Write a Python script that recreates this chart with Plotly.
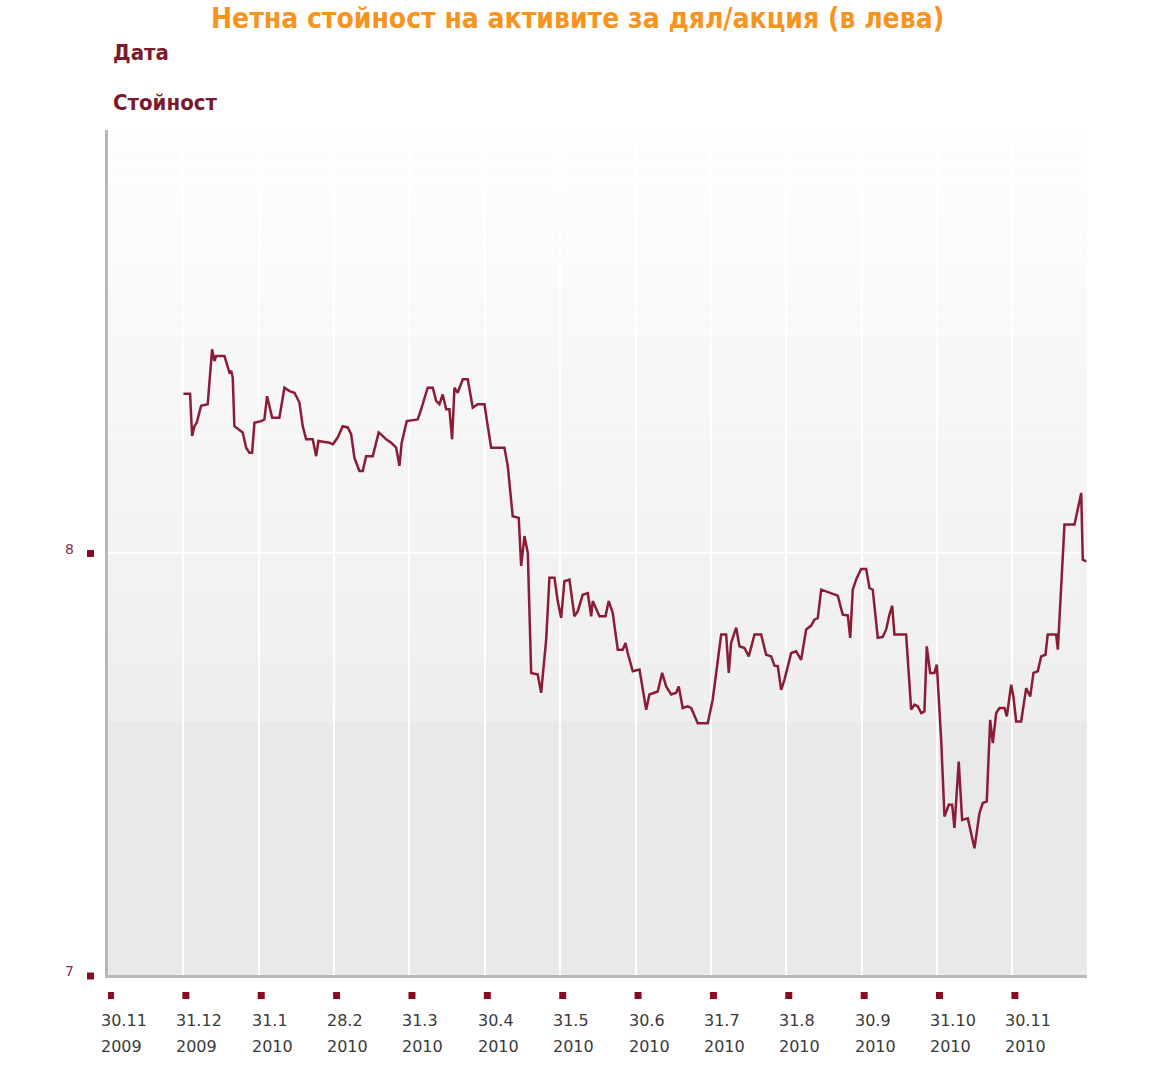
import plotly.graph_objects as go

# months since 30.11.2009 (equal spacing per month, as in the original chart)
months = [1.000, 1.089, 1.116, 1.147, 1.177, 1.235, 1.323, 1.381, 1.412, 1.434,
          1.545, 1.611, 1.634, 1.655, 1.677, 1.744, 1.787, 1.833, 1.876, 1.912,
          1.943, 2.032, 2.075, 2.111, 2.142, 2.178, 2.274, 2.341, 2.407, 2.474,
          2.540, 2.584, 2.629, 2.716, 2.762, 2.792, 2.938, 2.982, 3.048, 3.114,
          3.181, 3.226, 3.270, 3.314, 3.336, 3.380, 3.425, 3.513, 3.592, 3.645,
          3.690, 3.757, 3.823, 3.867, 3.897, 3.964, 4.110, 4.155, 4.242, 4.309,
          4.354, 4.398, 4.441, 4.487, 4.530, 4.566, 4.597, 4.640, 4.707, 4.773,
          4.840, 4.906, 4.995, 5.039, 5.084, 5.260, 5.304, 5.370, 5.450, 5.482,
          5.526, 5.570, 5.615, 5.702, 5.747, 5.814, 5.857, 5.924, 5.967, 6.013,
          6.056, 6.123, 6.189, 6.233, 6.299, 6.366, 6.411, 6.432, 6.521, 6.601,
          6.644, 6.697, 6.764, 6.830, 6.866, 6.896, 6.963, 7.052, 7.141, 7.184,
          7.294, 7.353, 7.406, 7.472, 7.539, 7.573, 7.626, 7.692, 7.738, 7.825,
          7.958, 8.024, 8.136, 8.202, 8.237, 8.268, 8.335, 8.379, 8.445, 8.502,
          8.578, 8.666, 8.733, 8.799, 8.843, 8.887, 8.932, 8.976, 9.065, 9.131,
          9.197, 9.264, 9.330, 9.374, 9.418, 9.463, 9.529, 9.595, 9.683, 9.749,
          9.816, 9.848, 9.882, 9.927, 9.993, 10.060, 10.104, 10.147, 10.214, 10.280,
          10.325, 10.369, 10.405, 10.435, 10.590, 10.657, 10.701, 10.744, 10.790, 10.833,
          10.864, 10.909, 10.966, 10.997, 11.055, 11.099, 11.156, 11.201, 11.231, 11.288,
          11.333, 11.408, 11.497, 11.563, 11.607, 11.660, 11.705, 11.740, 11.785, 11.829,
          11.895, 11.926, 11.984, 12.014, 12.050, 12.116, 12.183, 12.236, 12.280, 12.337,
          12.382, 12.439, 12.469, 12.580, 12.603, 12.691, 12.824, 12.913, 12.934, 12.979]

nav = [8.376, 8.376, 8.276, 8.299, 8.307, 8.347, 8.351, 8.481, 8.453, 8.465,
       8.465, 8.426, 8.430, 8.414, 8.299, 8.291, 8.284, 8.248, 8.236, 8.236,
       8.307, 8.311, 8.315, 8.370, 8.347, 8.319, 8.319, 8.390, 8.382, 8.378,
       8.355, 8.299, 8.268, 8.268, 8.228, 8.264, 8.260, 8.256, 8.272, 8.299,
       8.296, 8.280, 8.224, 8.205, 8.193, 8.193, 8.228, 8.228, 8.284, 8.276,
       8.268, 8.260, 8.248, 8.205, 8.260, 8.311, 8.315, 8.339, 8.390, 8.390,
       8.359, 8.351, 8.374, 8.339, 8.339, 8.268, 8.390, 8.378, 8.410, 8.410,
       8.343, 8.351, 8.351, 8.299, 8.248, 8.248, 8.205, 8.086, 8.082, 7.968,
       8.039, 7.999, 7.715, 7.711, 7.668, 7.794, 7.940, 7.940, 7.885, 7.845,
       7.932, 7.936, 7.849, 7.861, 7.900, 7.904, 7.849, 7.885, 7.849, 7.849,
       7.885, 7.857, 7.770, 7.770, 7.786, 7.762, 7.719, 7.723, 7.628, 7.664,
       7.671, 7.715, 7.683, 7.664, 7.668, 7.683, 7.632, 7.636, 7.632, 7.596,
       7.596, 7.652, 7.806, 7.806, 7.715, 7.786, 7.822, 7.778, 7.774, 7.754,
       7.806, 7.806, 7.758, 7.754, 7.732, 7.731, 7.675, 7.699, 7.762, 7.766,
       7.746, 7.818, 7.827, 7.841, 7.845, 7.912, 7.908, 7.904, 7.898, 7.853,
       7.851, 7.798, 7.912, 7.936, 7.961, 7.961, 7.916, 7.912, 7.798, 7.800,
       7.818, 7.853, 7.874, 7.806, 7.806, 7.628, 7.640, 7.636, 7.620, 7.624,
       7.778, 7.715, 7.715, 7.735, 7.557, 7.375, 7.403, 7.403, 7.348, 7.505,
       7.367, 7.371, 7.300, 7.383, 7.407, 7.411, 7.604, 7.549, 7.620, 7.632,
       7.632, 7.612, 7.687, 7.659, 7.600, 7.600, 7.679, 7.659, 7.715, 7.719,
       7.754, 7.758, 7.806, 7.806, 7.770, 8.066, 8.066, 8.141, 7.983, 7.979]

tick_months = [0, 1, 2, 3, 4, 5, 6, 7, 8, 9, 10, 11, 12]
tick_days = ["30.11", "31.12", "31.1", "28.2", "31.3", "30.4", "31.5",
             "30.6", "31.7", "31.8", "30.9", "31.10", "30.11"]
tick_years = ["2009", "2009", "2010", "2010", "2010", "2010", "2010",
              "2010", "2010", "2010", "2010", "2010", "2010"]
y_ticks = [7, 8]
Y_RANGE = [7, 9]

TITLE = "Нетна стойност на активите за дял/акция (в лева)"
LINE = "#8b1c38"
MARK = "#8a0a22"
DARKRED = "#7a1a2c"
COND = "DejaVu Sans Condensed, Liberation Sans Narrow, DejaVu Sans"

W, H = 1157, 1068
ML, MR, MT, MB = 108, 70, 130, 93
PH = H - MT - MB

fig = go.Figure()
fig.add_trace(go.Scatter(x=months, y=nav, mode="lines",
                         line=dict(color=LINE, width=2.5), hoverinfo="x+y",
                         showlegend=False))

shapes = []
# background gradient (drawn below the grid)
top_c, mid_c = 254, 238
n = 40
y_hi, y_mid = 9.0, 7.6
for i in range(n):
    a = y_hi - (y_hi - y_mid) * i / n
    b = y_hi - (y_hi - y_mid) * (i + 1) / n
    c = int(round(top_c + (mid_c - top_c) * (i + 0.5) / n))
    shapes.append(dict(type="rect", xref="paper", yref="y", x0=0, x1=1, y0=b, y1=a,
                       fillcolor=f"rgb({c},{c},{c})", line_width=0, layer="below"))
shapes.append(dict(type="rect", xref="paper", yref="y", x0=0, x1=1, y0=7.0, y1=7.6,
                   fillcolor="rgb(233,233,233)", line_width=0, layer="below"))

# square markers for x ticks
for m in tick_months:
    shapes.append(dict(type="rect", xref="x", yref="paper", xsizemode="pixel",
                       ysizemode="pixel", xanchor=m, yanchor=0,
                       x0=-1, x1=6, y0=-24, y1=-17, fillcolor=MARK, line_width=0,
                       layer="above"))
# square markers for y ticks (paper-referenced so they are not clipped)
for v in y_ticks:
    frac = (v - Y_RANGE[0]) / (Y_RANGE[1] - Y_RANGE[0])
    shapes.append(dict(type="rect", xref="paper", yref="paper", xsizemode="pixel",
                       ysizemode="pixel", xanchor=0, yanchor=frac,
                       x0=-21, x1=-14, y0=-4.5, y1=2.5, fillcolor=MARK, line_width=0,
                       layer="above"))

annotations = []
for m, d, yr in zip(tick_months, tick_days, tick_years):
    annotations.append(dict(x=m, y=0, xref="x", yref="paper", text=d, showarrow=False,
                            xanchor="left", yanchor="middle", xshift=-9, yshift=-45,
                            font=dict(family="DejaVu Sans", size=16, color="#3a3a3a")))
    annotations.append(dict(x=m, y=0, xref="x", yref="paper", text=yr, showarrow=False,
                            xanchor="left", yanchor="middle", xshift=-9, yshift=-71,
                            font=dict(family="DejaVu Sans", size=16, color="#3a3a3a")))
for v in y_ticks:
    annotations.append(dict(x=0, y=v, xref="paper", yref="y", text=str(v), showarrow=False,
                            xanchor="center", yanchor="middle", xshift=-39, yshift=4,
                            font=dict(family="DejaVu Sans", size=14, color="#8b2a45")))

annotations.append(dict(x=(577 - ML) / (W - ML - MR), y=1 + MT / PH, xref="paper", yref="paper",
                        text="<b>" + TITLE + "</b>",
                        showarrow=False, xanchor="center", yanchor="top",
                        font=dict(family=COND, size=28, color="#f7941d")))
annotations.append(dict(x=0.003, y=(H - MB - 52) / PH, xref="paper", yref="paper", text="<b>Дата</b>",
                        showarrow=False, xanchor="left", yanchor="middle",
                        font=dict(family=COND, size=22, color=DARKRED)))
annotations.append(dict(x=0.003, y=(H - MB - 103) / PH, xref="paper", yref="paper", text="<b>Стойност</b>",
                        showarrow=False, xanchor="left", yanchor="middle",
                        font=dict(family=COND, size=22, color=DARKRED)))

fig.update_layout(
    width=W, height=H,
    margin=dict(l=ML, r=MR, t=MT, b=MB),
    paper_bgcolor="white", plot_bgcolor="rgb(240,240,240)",
    shapes=shapes, annotations=annotations,
    showlegend=False,
    xaxis=dict(range=[0, 12.99], tickvals=tick_months, showticklabels=False,
               showgrid=True, gridcolor="white", gridwidth=2, zeroline=False,
               showline=True, linecolor="#b8b8b8", linewidth=3, ticks="",
               fixedrange=True),
    yaxis=dict(range=Y_RANGE, tickvals=[8], showticklabels=False,
               showgrid=True, gridcolor="white", gridwidth=2, zeroline=False,
               showline=True, linecolor="#b8b8b8", linewidth=3, ticks="",
               fixedrange=True),
)

fig.write_html("out.html", config={"displayModeBar": False},
               post_script="document.body.style.margin='0';document.body.style.overflow='hidden';")
